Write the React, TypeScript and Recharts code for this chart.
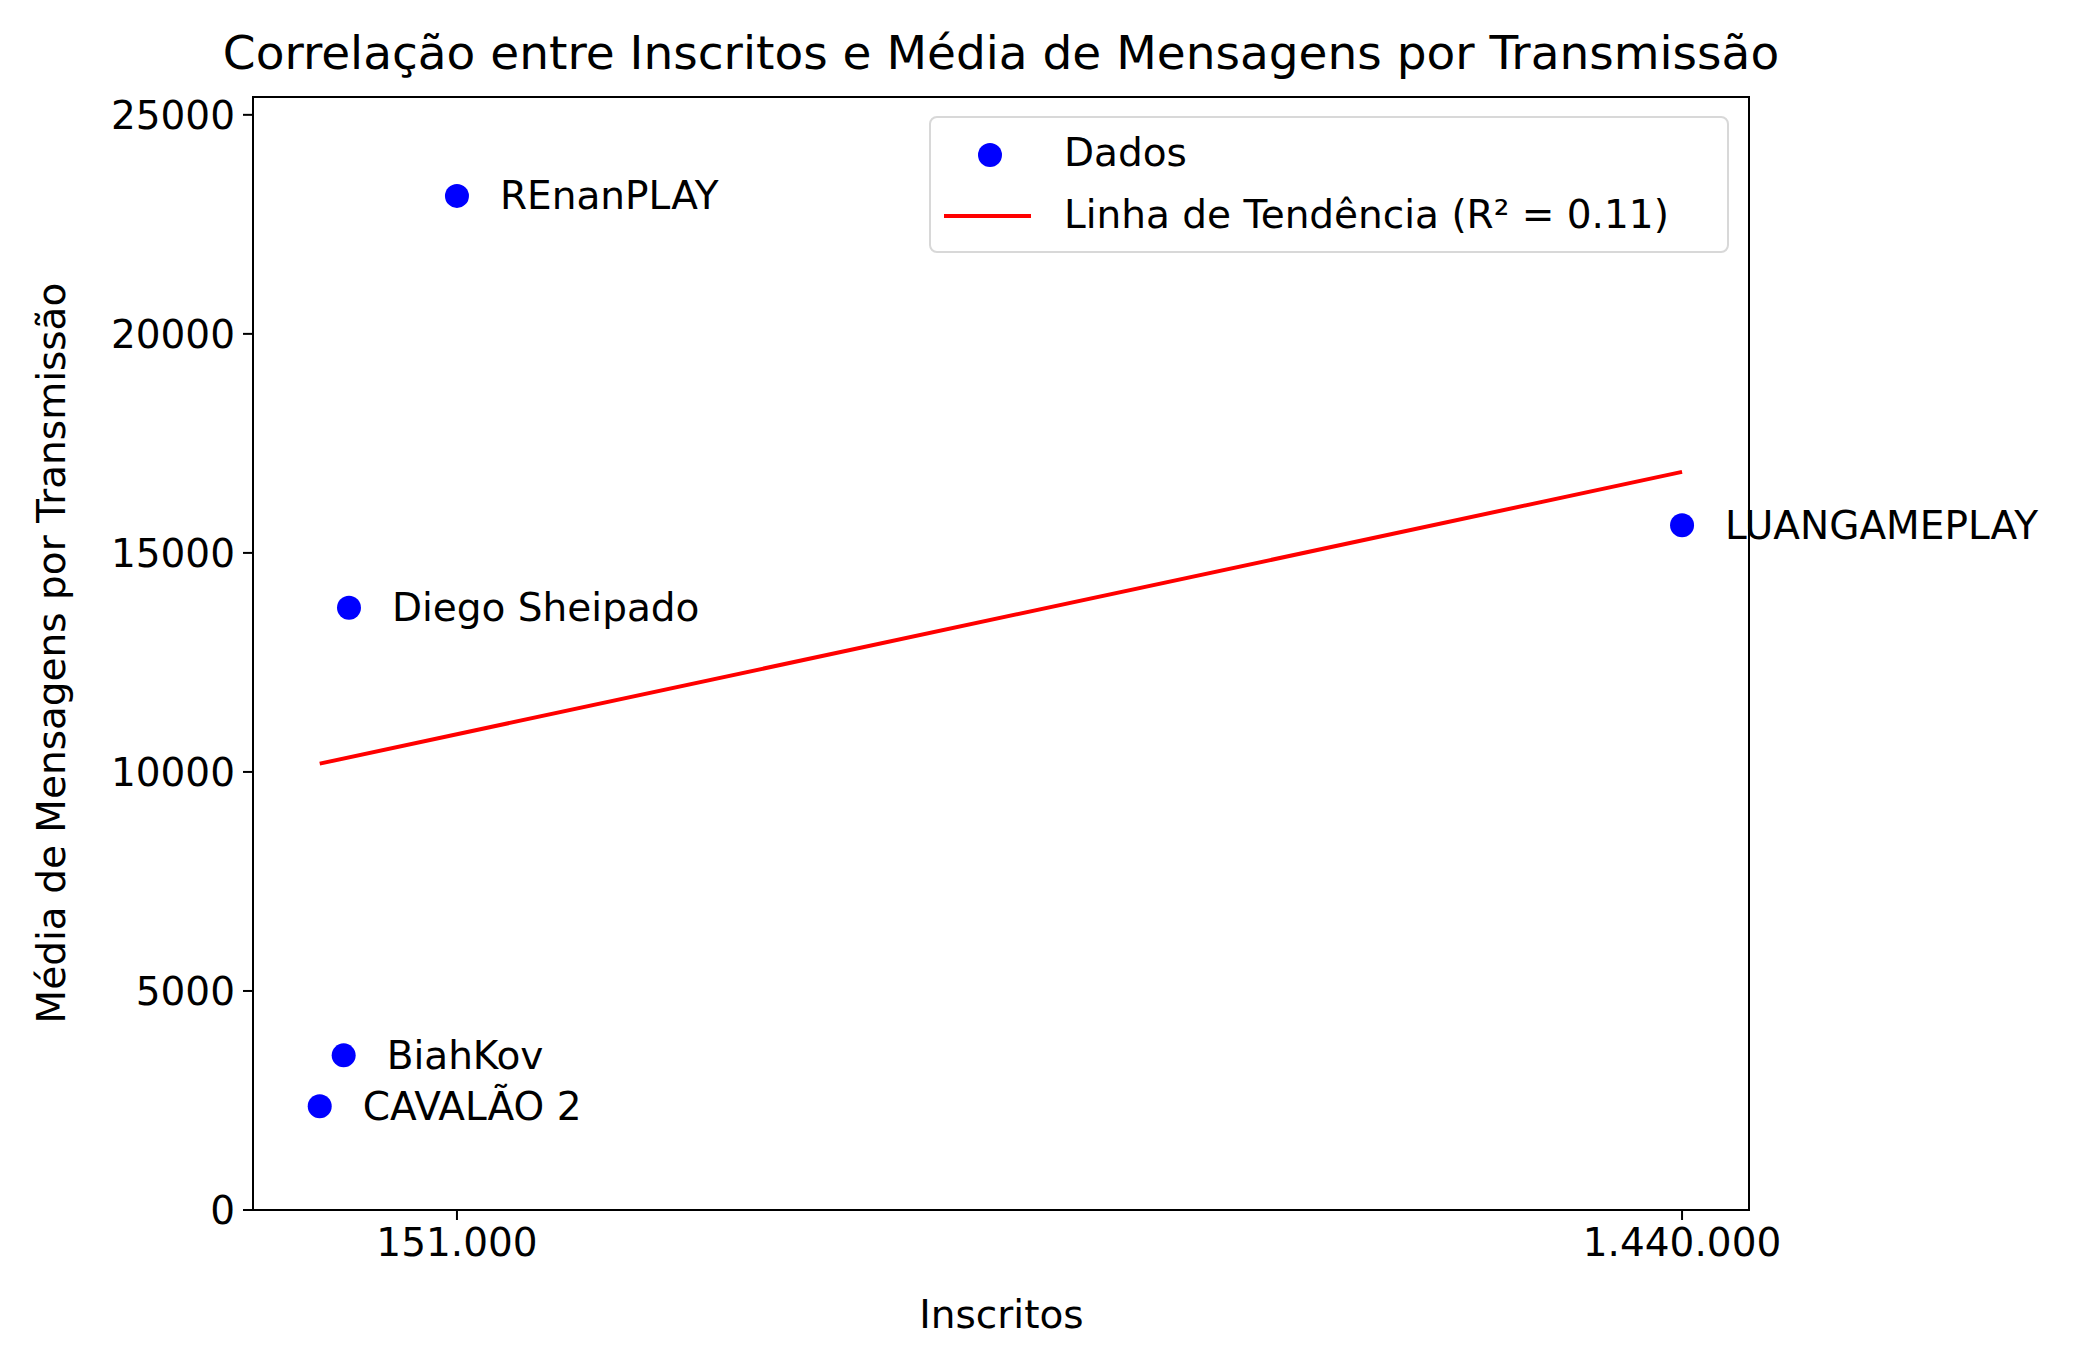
import { ScatterChart, Scatter, XAxis, YAxis, LabelList } from 'recharts'

const canais = ['REnanPLAY', 'Diego Sheipado', 'BiahKov', 'CAVALÃO 2', 'LUANGAMEPLAY']
const inscritos = [151000, 37400, 31800, 6600, 1440000]
const mediaMensagens = [23150, 13750, 3530, 2370, 15630]
const tendenciaX = [6600, 1440000]
const tendenciaY = [10190, 16850]
const xTicks = [151000, 1440000]
const yTicks = [0, 5000, 10000, 15000, 20000, 25000]

const pontos = canais.map((nome, i) => ({ x: inscritos[i], y: mediaMensagens[i], nome }))
const tendencia = tendenciaX.map((x, i) => ({ x, y: tendenciaY[i] }))

const FONT = '"DejaVu Sans", sans-serif'
const fmtMilhar = (v: number) => String(v).replace(/\B(?=(\d{3})+(?!\d))/g, '.')

function Rotulo(props: any) {
  const { x, y, width, height, value } = props
  const cx = x + width / 2
  const cy = y + height / 2
  return (
    <text x={cx + 43} y={cy} dominantBaseline="central" fontSize={39} fontFamily={FONT} fill="#000">
      {value}
    </text>
  )
}

export default function App() {
  return (
    <div style={{ position: 'relative', width: 2078, height: 1363, margin: -8, background: '#fff', fontFamily: FONT }}>
      <ScatterChart width={2078} height={1363} margin={{ top: 96, right: 328, bottom: 0, left: 0 }}>
        <XAxis
          type="number"
          dataKey="x"
          domain={[-63600, 1511500]}
          ticks={xTicks}
          tickFormatter={fmtMilhar}
          tick={{ fill: '#000', fontSize: 39, fontFamily: FONT, dy: 6 }}
          stroke="#000"
          strokeWidth={2}
          tickSize={10}
          height={153}
          allowDataOverflow
        />
        <YAxis
          type="number"
          dataKey="y"
          domain={[0, 25430]}
          ticks={yTicks}
          tick={{ fill: '#000', fontSize: 39, fontFamily: FONT, dx: -6 }}
          stroke="#000"
          strokeWidth={2}
          tickSize={10}
          width={253}
          allowDataOverflow
        />
        <Scatter
          data={tendencia}
          line={{ stroke: '#ff0000', strokeWidth: 4 }}
          shape={() => null}
          isAnimationActive={false}
        />
        <Scatter data={pontos} fill="#0000ff" shape={(p: any) => <circle cx={p.cx} cy={p.cy} r={12} fill="#0000ff" />} isAnimationActive={false}>
          <LabelList dataKey="nome" content={<Rotulo />} />
        </Scatter>
      </ScatterChart>
      {/* moldura superior e direita do eixo */}
      <div style={{ position: 'absolute', left: 253, top: 96, width: 1497, height: 1114, borderTop: '2px solid #000', borderRight: '2px solid #000', boxSizing: 'border-box', pointerEvents: 'none' }} />
      <div style={{ position: 'absolute', left: 0, width: 2002, top: 25, textAlign: 'center', fontSize: 47, lineHeight: '56px', whiteSpace: 'nowrap' }}>
        Correlação entre Inscritos e Média de Mensagens por Transmissão
      </div>
      <div style={{ position: 'absolute', left: 253, width: 1497, top: 1292, textAlign: 'center', fontSize: 39 }}>
        Inscritos
      </div>
      <div style={{ position: 'absolute', left: 51, top: 653, fontSize: 39, whiteSpace: 'nowrap', transform: 'translate(-50%, -50%) rotate(-90deg)' }}>
        Média de Mensagens por Transmissão
      </div>
      <div style={{ position: 'absolute', left: 929, top: 116, width: 800, height: 137, border: '2px solid #d8d8d8', borderRadius: 8, boxSizing: 'border-box', fontSize: 39, background: '#fff' }}>
        <div style={{ position: 'absolute', left: 47, top: 25, width: 24, height: 24, borderRadius: 12, background: '#0000ff' }} />
        <div style={{ position: 'absolute', left: 133, top: 12, lineHeight: '46px' }}>Dados</div>
        <div style={{ position: 'absolute', left: 13, top: 96, width: 87, height: 4, background: '#ff0000' }} />
        <div style={{ position: 'absolute', left: 133, top: 74, lineHeight: '46px', whiteSpace: 'nowrap' }}>Linha de Tendência (R² = 0.11)</div>
      </div>
    </div>
  )
}
